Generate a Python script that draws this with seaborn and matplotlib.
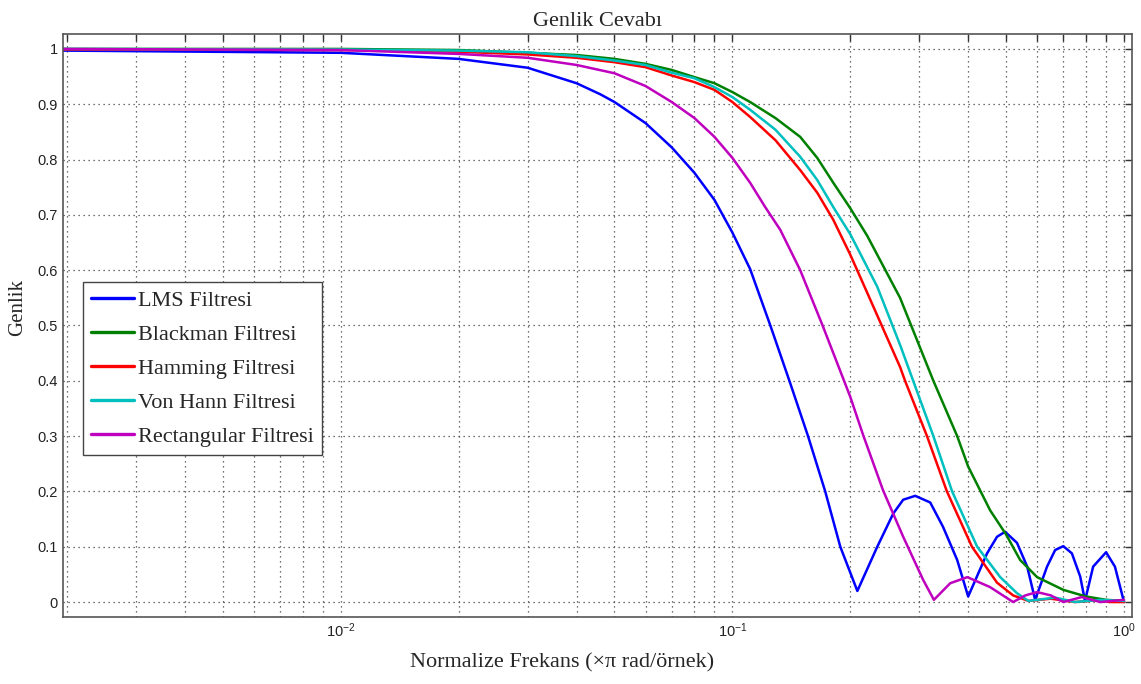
import numpy as np
import pandas as pd
import matplotlib
matplotlib.use("Agg")
import matplotlib.pyplot as plt
from matplotlib.ticker import LogLocator, LogFormatterSciNotation, NullFormatter
import seaborn as sns

# ---------------- data ----------------
series_names = ["LMS Filtresi", "Blackman Filtresi", "Hamming Filtresi",
                "Von Hann Filtresi", "Rectangular Filtresi"]
series_colors = ["#0000ff", "#008000", "#ff0000", "#00bfbf", "#bf00bf"]

lms_f = [0.00195, 0.01, 0.02, 0.03, 0.04, 0.046, 0.05, 0.06, 0.07, 0.08, 0.09, 0.10,
         0.111, 0.125, 0.1406, 0.156, 0.1726, 0.1886, 0.2085,
         0.2344, 0.2575, 0.273, 0.293, 0.32, 0.345, 0.375, 0.40,
         0.447, 0.474, 0.497, 0.533, 0.566, 0.593,
         0.636, 0.667, 0.70, 0.736, 0.773, 0.795,
         0.834, 0.90, 0.948, 1.0]
lms_a = [0.997, 0.993, 0.982, 0.966, 0.938, 0.918, 0.904, 0.866, 0.822, 0.776, 0.727, 0.668,
         0.602, 0.50, 0.395, 0.30, 0.20, 0.10, 0.02,
         0.10, 0.16, 0.185, 0.192, 0.18, 0.136, 0.076, 0.01,
         0.088, 0.118, 0.127, 0.107, 0.064, 0.004,
         0.064, 0.094, 0.101, 0.088, 0.046, 0.002,
         0.064, 0.09, 0.064, 0.0]

blackman_f = [0.00195, 0.01, 0.02, 0.03, 0.04, 0.05, 0.06, 0.07, 0.08, 0.09, 0.10,
              0.111, 0.1288, 0.149, 0.1647, 0.181, 0.20, 0.221, 0.268, 0.326,
              0.375, 0.40, 0.455, 0.50, 0.543, 0.60, 0.70, 0.80, 0.90, 1.0]
blackman_a = [1.0, 1.0, 0.998, 0.993, 0.989, 0.982, 0.973, 0.962, 0.949, 0.938, 0.922,
              0.904, 0.875, 0.841, 0.803, 0.758, 0.712, 0.662, 0.55, 0.40,
              0.30, 0.245, 0.166, 0.122, 0.076, 0.045, 0.022, 0.01, 0.004, 0.002]

hamming_f = [0.00195, 0.01, 0.02, 0.03, 0.04, 0.05, 0.06, 0.07, 0.08, 0.09, 0.10,
             0.111, 0.1288, 0.149, 0.1647, 0.181, 0.20, 0.221, 0.268, 0.276,
             0.314, 0.353, 0.409, 0.474, 0.521, 0.57, 0.65, 0.75, 0.85, 0.92, 1.0]
hamming_a = [0.999, 0.998, 0.995, 0.99, 0.984, 0.976, 0.967, 0.952, 0.94, 0.926, 0.904,
             0.877, 0.835, 0.781, 0.74, 0.691, 0.628, 0.559, 0.425, 0.40,
             0.30, 0.20, 0.10, 0.035, 0.012, 0.002, 0.006, 0.0, 0.003, 0.0, 0.0]

vonhann_f = [0.00195, 0.01, 0.02, 0.03, 0.04, 0.05, 0.06, 0.07, 0.08, 0.09, 0.10,
             0.111, 0.1288, 0.149, 0.1647, 0.181, 0.20, 0.2344, 0.268, 0.2895,
             0.326, 0.364, 0.4217, 0.483, 0.533, 0.57, 0.667, 0.75, 0.87, 1.0]
vonhann_a = [1.0, 0.999, 0.997, 0.994, 0.987, 0.979, 0.971, 0.957, 0.947, 0.931, 0.913,
             0.89, 0.854, 0.805, 0.763, 0.714, 0.665, 0.57, 0.465, 0.40,
             0.30, 0.20, 0.10, 0.045, 0.016, 0.002, 0.008, 0.0, 0.004, 0.002]

rect_f = [0.00195, 0.01, 0.02, 0.03, 0.04, 0.05, 0.06, 0.07, 0.08, 0.09, 0.10,
          0.111, 0.1213, 0.1325, 0.149, 0.1706, 0.20, 0.2157, 0.2425, 0.273, 0.307,
          0.327, 0.36, 0.398, 0.455, 0.521, 0.56, 0.60, 0.65, 0.70, 0.78, 0.87, 1.0]
rect_a = [1.0, 0.998, 0.991, 0.984, 0.971, 0.956, 0.933, 0.904, 0.875, 0.841, 0.803,
          0.758, 0.714, 0.673, 0.60, 0.497, 0.371, 0.302, 0.202, 0.118, 0.04,
          0.004, 0.034, 0.045, 0.027, 0.0, 0.012, 0.018, 0.012, 0.0, 0.009, 0.0, 0.004]

y_ticks = [0, 0.1, 0.2, 0.3, 0.4, 0.5, 0.6, 0.7, 0.8, 0.9, 1]
y_tick_labels = ["0", "0.1", "0.2", "0.3", "0.4", "0.5", "0.6", "0.7", "0.8", "0.9", "1"]

title_text = "Genlik Cevabı"
x_label = "Normalize Frekans (×π rad/örnek)"
y_label = "Genlik"

# ---------------- build long table ----------------
frames = []
for name, f, a in zip(series_names,
                      [lms_f, blackman_f, hamming_f, vonhann_f, rect_f],
                      [lms_a, blackman_a, hamming_a, vonhann_a, rect_a]):
    frames.append(pd.DataFrame({"f": f, "a": a, "Filtre": name}))
df = pd.concat(frames, ignore_index=True)

# ---------------- style ----------------
sns.set_style("white")
plt.rcParams["font.family"] = ["Liberation Sans", "DejaVu Sans"]
plt.rcParams["mathtext.default"] = "regular"

fig = plt.figure(figsize=(11.41, 6.84), dpi=100)
ax = fig.add_axes([0.0552, 0.098, 0.9369, 0.8523])

sns.lineplot(data=df, x="f", y="a", hue="Filtre", hue_order=series_names,
             palette=series_colors, sort=False, estimator=None,
             linewidth=1.8, ax=ax, legend=False)

ax.set_xscale("log")
ax.set_xlim(1 / 512, 1.048)
ax.set_ylim(-0.027, 1.027)

ax.xaxis.set_major_locator(LogLocator(base=10))
ax.xaxis.set_major_formatter(LogFormatterSciNotation())
ax.xaxis.set_minor_locator(LogLocator(base=10, subs=np.arange(2, 10)))
ax.xaxis.set_minor_formatter(NullFormatter())
ax.set_yticks(y_ticks)
ax.set_yticklabels(y_tick_labels)

ax.grid(True, which="major", axis="both", linestyle=(0, (1, 3)), color="#444444", linewidth=0.9)
ax.grid(True, which="minor", axis="x", linestyle=(0, (1, 3)), color="#444444", linewidth=0.9)

ax.tick_params(axis="both", which="both", direction="in", top=True, right=True,
               color="#333333", labelsize=10.5, labelcolor="#222222")
ax.tick_params(axis="both", which="major", length=5, width=1)
ax.tick_params(axis="both", which="minor", length=5, width=1)
for s in ax.spines.values():
    s.set_color("#555555")
    s.set_linewidth(1.2)

serif = ["Liberation Serif", "DejaVu Serif"]
ax.set_title(title_text, fontsize=16, family=serif, pad=6)
ax.set_xlabel(x_label, fontsize=16, family=serif, labelpad=9, x=0.467)
ax.set_ylabel(y_label, fontsize=15, family=serif, labelpad=8, y=0.53)

handles = [plt.Line2D([], [], color=c, linewidth=2.4) for c in series_colors]
leg = ax.legend(handles, series_names, loc="upper left", bbox_to_anchor=(0.0187, 0.5746),
                borderaxespad=0, fancybox=False, framealpha=1, edgecolor="#444444",
                prop={"family": serif, "size": 16}, handlelength=1.9,
                handletextpad=0.18, labelspacing=0.6, borderpad=0.38)
leg.get_frame().set_linewidth(1.0)

fig.savefig("out.png", dpi=100, facecolor="white")
